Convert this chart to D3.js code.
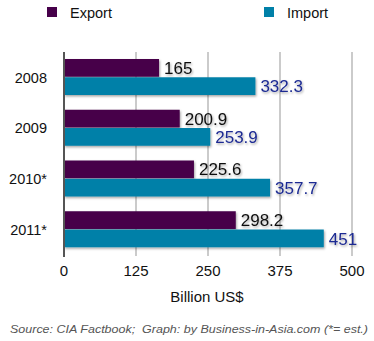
<!DOCTYPE html>
<html><head><meta charset="utf-8">
<script src="https://cdn.jsdelivr.net/npm/d3@7"></script>
<style>body{margin:0;background:#fff}svg{display:block}text{font-family:"Liberation Sans",Arial,sans-serif}</style>
</head><body>
<script>
const categories = ["2008","2009","2010*","2011*"];
const seriesNames = ["Export","Import"];
const exportValues = [165, 200.9, 225.6, 298.2];
const importValues = [332.3, 253.9, 357.7, 451];
const exportLabels = ["165","200.9","225.6","298.2"];
const importLabels = ["332.3","253.9","357.7","451"];
const tickValues = [0,125,250,375,500];
const colors = ["#46004a","#0080a8"];
const labelColors = ["#111","#1c2a92"];

const W=374,H=341;
const svg=d3.select("body").append("svg").attr("width",W).attr("height",H);
const defs=svg.append("defs");
const f=defs.append("filter").attr("id","sh").attr("x","-20%").attr("y","-30%").attr("width","150%").attr("height","180%");
f.append("feDropShadow").attr("dx",1).attr("dy",1.5).attr("stdDeviation",1.2).attr("flood-color","#000").attr("flood-opacity",0.35);

const x=d3.scaleLinear().domain([0,500]).range([64,352]);
const y=d3.scaleBand().domain(categories).range([52,255]);
const inner=d3.scaleBand().domain(seriesNames).range([7,43]).paddingInner(0.03);

// gridlines
svg.append("g").selectAll("line").data(tickValues.slice(1)).join("line")
  .attr("x1",d=>x(d)).attr("x2",d=>x(d)).attr("y1",52).attr("y2",256)
  .attr("stroke","#cbcbcb").attr("stroke-width",2);

const data=categories.map((c,i)=>({c,vals:[exportValues[i],importValues[i]],labs:[exportLabels[i],importLabels[i]]}));
const g=svg.append("g");
data.forEach(d=>{
  seriesNames.forEach((s,j)=>{
    g.append("rect").attr("x",x(0)).attr("y",y(d.c)+inner(s)).attr("width",x(d.vals[j])-x(0)).attr("height",inner.bandwidth())
      .attr("fill",colors[j]).attr("filter","url(#sh)");
    g.append("text").attr("x",x(d.vals[j])+5).attr("y",y(d.c)+inner(s)+inner.bandwidth()/2).attr("dy","0.36em")
      .attr("font-size",17).attr("fill",labelColors[j]).attr("filter","url(#sh)").text(d.labs[j]);
  });
  svg.append("text").attr("x",47).attr("y",y(d.c)+y.bandwidth()/2).attr("dy","0.36em").attr("text-anchor","end")
    .attr("font-size",14.5).attr("fill","#111").text(d.c);
});

// axis line
svg.append("line").attr("x1",64).attr("x2",64).attr("y1",52).attr("y2",257).attr("stroke","#555").attr("stroke-width",2);

// tick labels
svg.append("g").selectAll("text").data(tickValues).join("text")
  .attr("x",d=>x(d)).attr("y",276).attr("text-anchor","middle").attr("font-size",15).attr("fill","#111").text(d=>d);

svg.append("text").attr("x",207).attr("y",302).attr("text-anchor","middle").attr("font-size",15).attr("fill","#111").text("Billion US$");

svg.append("text").attr("x",10).attr("y",333).attr("font-size",11).attr("font-style","italic").attr("fill","#555")
  .attr("textLength",358).attr("lengthAdjust","spacingAndGlyphs")
  .text("Source: CIA Factbook;  Graph: by Business-in-Asia.com (*= est.)").style("white-space","pre");

// legend
const legX=[47,264];
seriesNames.forEach((s,j)=>{
  svg.append("rect").attr("x",legX[j]).attr("y",7).attr("width",10).attr("height",10).attr("fill",colors[j]);
  svg.append("text").attr("x",legX[j]+23).attr("y",17.5).attr("font-size",14.5).attr("fill","#111").text(s);
});
</script>
</body></html>
